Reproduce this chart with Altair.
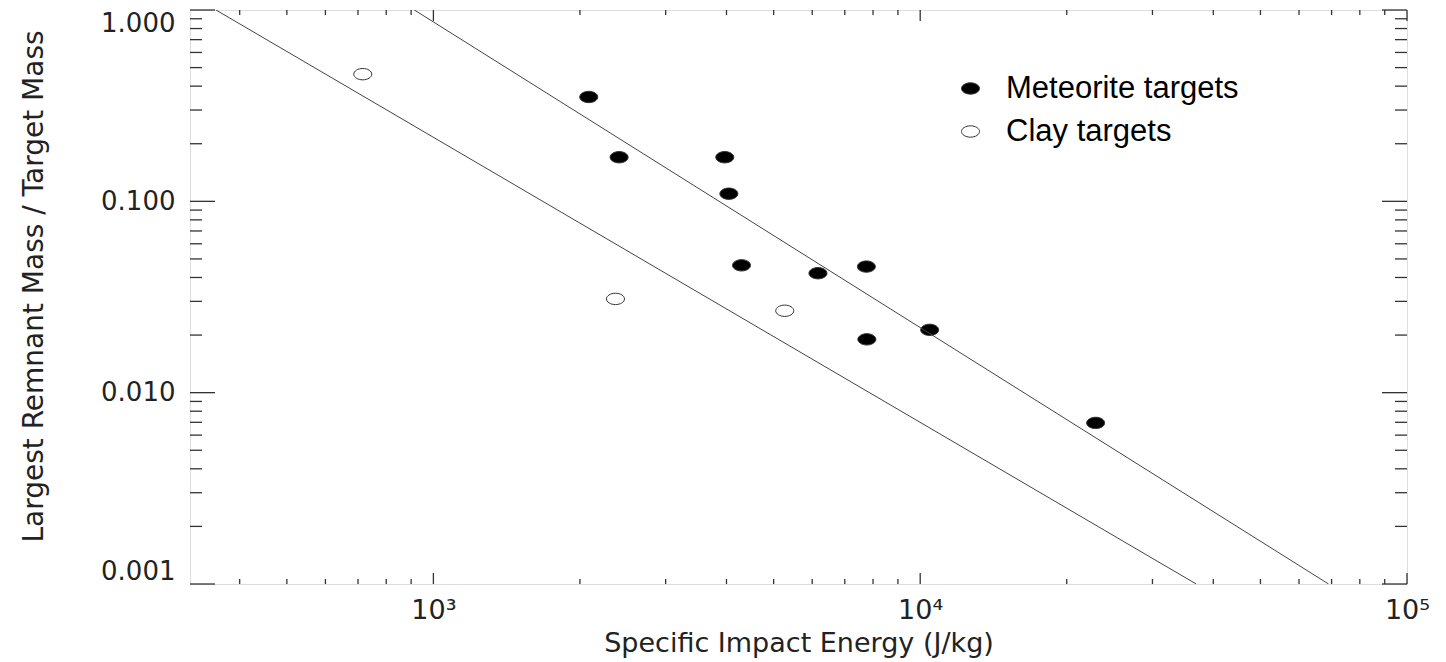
import altair as alt
import pandas as pd

# ---- data ----
met_x = [2085, 2407, 3968, 4045, 4295, 6166, 7753, 7770, 10459, 22930]
met_y = [0.351, 0.170, 0.170, 0.1096, 0.0463, 0.0421, 0.0456, 0.0190, 0.0213, 0.00695]
clay_x = [716, 2366, 5269]
clay_y = [0.462, 0.0309, 0.0268]

upper_x = [914, 69000]
upper_y = [1.0, 0.001]
lower_x = [357.6, 36900]
lower_y = [1.0, 0.001]

x_major = [1000, 10000, 100000]
x_minor = [400, 500, 600, 700, 800, 900,
           2000, 3000, 4000, 5000, 6000, 7000, 8000, 9000,
           20000, 30000, 40000, 50000, 60000, 70000, 80000, 90000]
y_major = [0.001, 0.01, 0.1, 1.0]
y_minor = [0.002, 0.003, 0.004, 0.005, 0.006, 0.007, 0.008, 0.009,
           0.02, 0.03, 0.04, 0.05, 0.06, 0.07, 0.08, 0.09,
           0.2, 0.3, 0.4, 0.5, 0.6, 0.7, 0.8, 0.9]

W, H = 1217, 574
AX = "#333333"
FONT = "DejaVu Sans"
ELLIPSE = "M-1,0A1,0.63,0,1,0,1,0A1,0.63,0,1,0,-1,0Z"

pts = pd.DataFrame({
    "E": met_x + clay_x,
    "M": met_y + clay_y,
    "type": ["Meteorite targets"] * len(met_x) + ["Clay targets"] * len(clay_x),
})
lines = pd.DataFrame({
    "E": upper_x + lower_x,
    "M": upper_y + lower_y,
    "line": ["upper", "upper", "lower", "lower"],
})

xs = alt.Scale(type="log", domain=[316.23, 100000], nice=False)
ys = alt.Scale(type="log", domain=[0.001, 1.0], nice=False)

x_enc = alt.X("E:Q", scale=xs, title="Specific Impact Energy (J/kg)",
              axis=alt.Axis(values=x_major, grid=False, ticks=False, tickSize=0, domain=False,
                            labelExpr="'10' + (datum.value == 1000 ? '³' : datum.value == 10000 ? '⁴' : '⁵')",
                            labelFont=FONT, labelFontSize=27, labelColor="#222", labelPadding=13,
                            labelFlush=False,
                            titleFont=FONT, titleFontSize=27, titleFontWeight="normal",
                            titleColor="#222", titlePadding=7))
y_enc = alt.Y("M:Q", scale=ys, title="Largest Remnant Mass / Target Mass",
              axis=alt.Axis(values=y_major, format=".3f", grid=False, ticks=False, tickSize=0,
                            domain=False, labelFlush=True,
                            labelFont=FONT, labelFontSize=26, labelColor="#222", labelPadding=15,
                            titleFont=FONT, titleFontSize=28, titleFontWeight="normal",
                            titleColor="#222", titlePadding=52, titleY=276))

line_layer = alt.Chart(lines).mark_line(color="#444", strokeWidth=1, clip=True).encode(
    x=alt.X("E:Q", scale=xs), y=alt.Y("M:Q", scale=ys), detail="line:N")

point_layer = alt.Chart(pts).mark_point(filled=True, shape=ELLIPSE, size=324, stroke="#333",
                                        strokeWidth=1, opacity=1).encode(
    x=x_enc, y=y_enc,
    fill=alt.Fill("type:N",
                  scale=alt.Scale(domain=["Meteorite targets", "Clay targets"],
                                  range=["#000000", "#ffffff"]),
                  legend=alt.Legend(title=None, orient="none", legendX=765, legendY=63,
                                    symbolType=ELLIPSE, symbolSize=324,
                                    symbolStrokeColor="#333", symbolStrokeWidth=1,
                                    labelFont="Liberation Sans", labelFontSize=31,
                                    labelColor="#000", labelOffset=20, rowPadding=11,
                                    labelLimit=600, padding=0)))


def rules(vals, field_is_x, length, at_far):
    df = pd.DataFrame({"v": vals})
    base = alt.Chart(df).mark_rule(color=AX, strokeWidth=1.3)
    if field_is_x:
        if at_far:   # top edge
            return base.encode(x=alt.X("v:Q", scale=xs), y=alt.value(0), y2=alt.value(length))
        return base.encode(x=alt.X("v:Q", scale=xs), y=alt.value(H), y2=alt.value(H - length))
    if at_far:       # right edge
        return base.encode(y=alt.Y("v:Q", scale=ys), x=alt.value(W), x2=alt.value(W - length))
    return base.encode(y=alt.Y("v:Q", scale=ys), x=alt.value(0), x2=alt.value(length))


tick_layers = [
    rules(x_major, True, 11, False), rules(x_minor, True, 5, False),
    rules(x_major, True, 11, True), rules(x_minor, True, 5, True),
    rules(y_major, False, 25, False), rules(y_minor, False, 12, False),
    rules(y_major, False, 25, True), rules(y_minor, False, 12, True),
]

chart = alt.layer(point_layer, line_layer, *tick_layers).properties(
    width=W, height=H,
    autosize=alt.AutoSizeParams(type="none"),
    padding={"left": 182, "top": 2, "right": 30, "bottom": 76},
).configure_view(stroke=AX, strokeWidth=1.5).configure(background="white")

chart.save("out.html", embed_options={"renderer": "svg", "actions": False})
